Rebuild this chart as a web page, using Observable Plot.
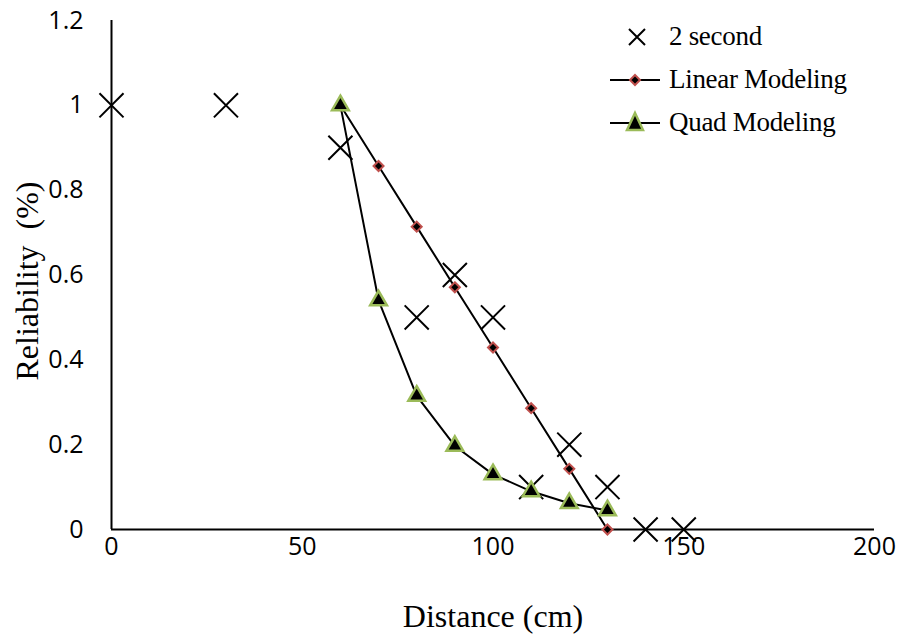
<!DOCTYPE html>
<html><head><meta charset="utf-8">
<script src="https://cdn.jsdelivr.net/npm/d3@7"></script>
<script src="https://cdn.jsdelivr.net/npm/@observablehq/plot@0.6"></script>
<style>
body{margin:0;background:#fff;}
#wrap{position:relative;width:901px;height:640px;}
#legend{position:absolute;left:605px;top:15px;font-family:"Liberation Serif",serif;font-size:27px;letter-spacing:-0.3px;color:#000;}
#legend div{display:flex;align-items:center;height:43px;}
#legend svg{width:58px;height:30px;margin-right:6px;}
</style>
</head><body>
<div id="wrap"><div id="chart"></div>
<div id="legend">
<div><svg viewBox="0 0 58 30"><path d="M24,7 L40,23 M40,7 L24,23" stroke="#000" stroke-width="2"/></svg>2 second</div>
<div><svg viewBox="0 0 58 30"><line x1="5" y1="15" x2="55" y2="15" stroke="#000" stroke-width="2"/><path d="M30,10 L35,15 L30,20 L25,15Z" fill="#000" stroke="#C0504D" stroke-width="2"/></svg>Linear Modeling</div>
<div><svg viewBox="0 0 58 30"><line x1="5" y1="15" x2="55" y2="15" stroke="#000" stroke-width="2"/><path d="M30,5 L38,22 L22,22Z" fill="#000" stroke="#9BBB59" stroke-width="2.5"/></svg>Quad Modeling</div>
</div></div>
<script>
const xTicks = [0, 50, 100, 150, 200];
const xTickLabels = ["0", "50", "100", "150", "200"];
const yTicks = [0, 0.2, 0.4, 0.6, 0.8, 1, 1.2];
const yTickLabels = ["0", "0.2", "0.4", "0.6", "0.8", "1", "1.2"];

const secX = [0, 30, 60, 80, 90, 100, 110, 120, 130, 140, 150];
const secY = [1, 1, 0.9, 0.5, 0.6, 0.5, 0.1, 0.2, 0.1, 0, 0];

const linX = [60, 70, 80, 90, 100, 110, 120, 130];
const linY = [1, 0.857, 0.714, 0.571, 0.429, 0.286, 0.143, 0];

const quadX = [60, 70, 80, 90, 100, 110, 120, 130];
const quadY = [1, 0.54, 0.315, 0.197, 0.13, 0.09, 0.062, 0.045];

const sec = secX.map((x, i) => ({x, y: secY[i]}));
const lin = linX.map((x, i) => ({x, y: linY[i]}));
const quad = quadX.map((x, i) => ({x, y: quadY[i]}));
const xt = xTicks.map((v, i) => ({v, t: xTickLabels[i]}));
const yt = yTicks.map((v, i) => ({v, t: yTickLabels[i]}));

const tickFont = "'Open Sans', sans-serif";
const chart = Plot.plot({
  width: 901, height: 640,
  marginLeft: 111, marginRight: 27, marginTop: 20, marginBottom: 111,
  style: {fontFamily: tickFont, background: "#fff", color: "#000"},
  x: {domain: [0, 200], axis: null},
  y: {domain: [0, 1.2], axis: null},
  marks: [
    Plot.text(xt, {x: "v", y: () => 0, text: "t", dy: 17, fontSize: 25, fontFamily: tickFont, fill: "#000"}),
    Plot.text(yt, {x: () => 0, y: "v", text: "t", dx: -28, textAnchor: "end", fontSize: 25, fontFamily: tickFont, fill: "#000"}),
    Plot.ruleY([0], {stroke: "#000", strokeWidth: 2}),
    Plot.ruleX([0], {stroke: "#000", strokeWidth: 2}),
    Plot.line(lin, {x: "x", y: "y", stroke: "#000", strokeWidth: 2}),
    Plot.line(quad, {x: "x", y: "y", stroke: "#000", strokeWidth: 2}),
    Plot.dot(lin, {x: "x", y: "y", symbol: "diamond2", r: 4.5, fill: "#000", stroke: "#C0504D", strokeWidth: 2}),
    Plot.dot(sec, {x: "x", y: "y", symbol: "times", r: 11, stroke: "#000", strokeWidth: 2}),
    Plot.dot(quad, {x: "x", y: "y", symbol: "triangle2", r: 8, fill: "#000", stroke: "#9BBB59", strokeWidth: 2.5}),
    Plot.text(["Distance (cm)"], {frameAnchor: "bottom", dy: 97, fontFamily: "'Liberation Serif', serif", fontSize: 32}),
    Plot.text(["Reliability  (%)"], {frameAnchor: "left", dx: -84, dy: 6, rotate: -90, textAnchor: "middle", fontFamily: "'Liberation Serif', serif", fontSize: 32})
  ]
});
document.getElementById("chart").appendChild(chart);
</script>
</body></html>
